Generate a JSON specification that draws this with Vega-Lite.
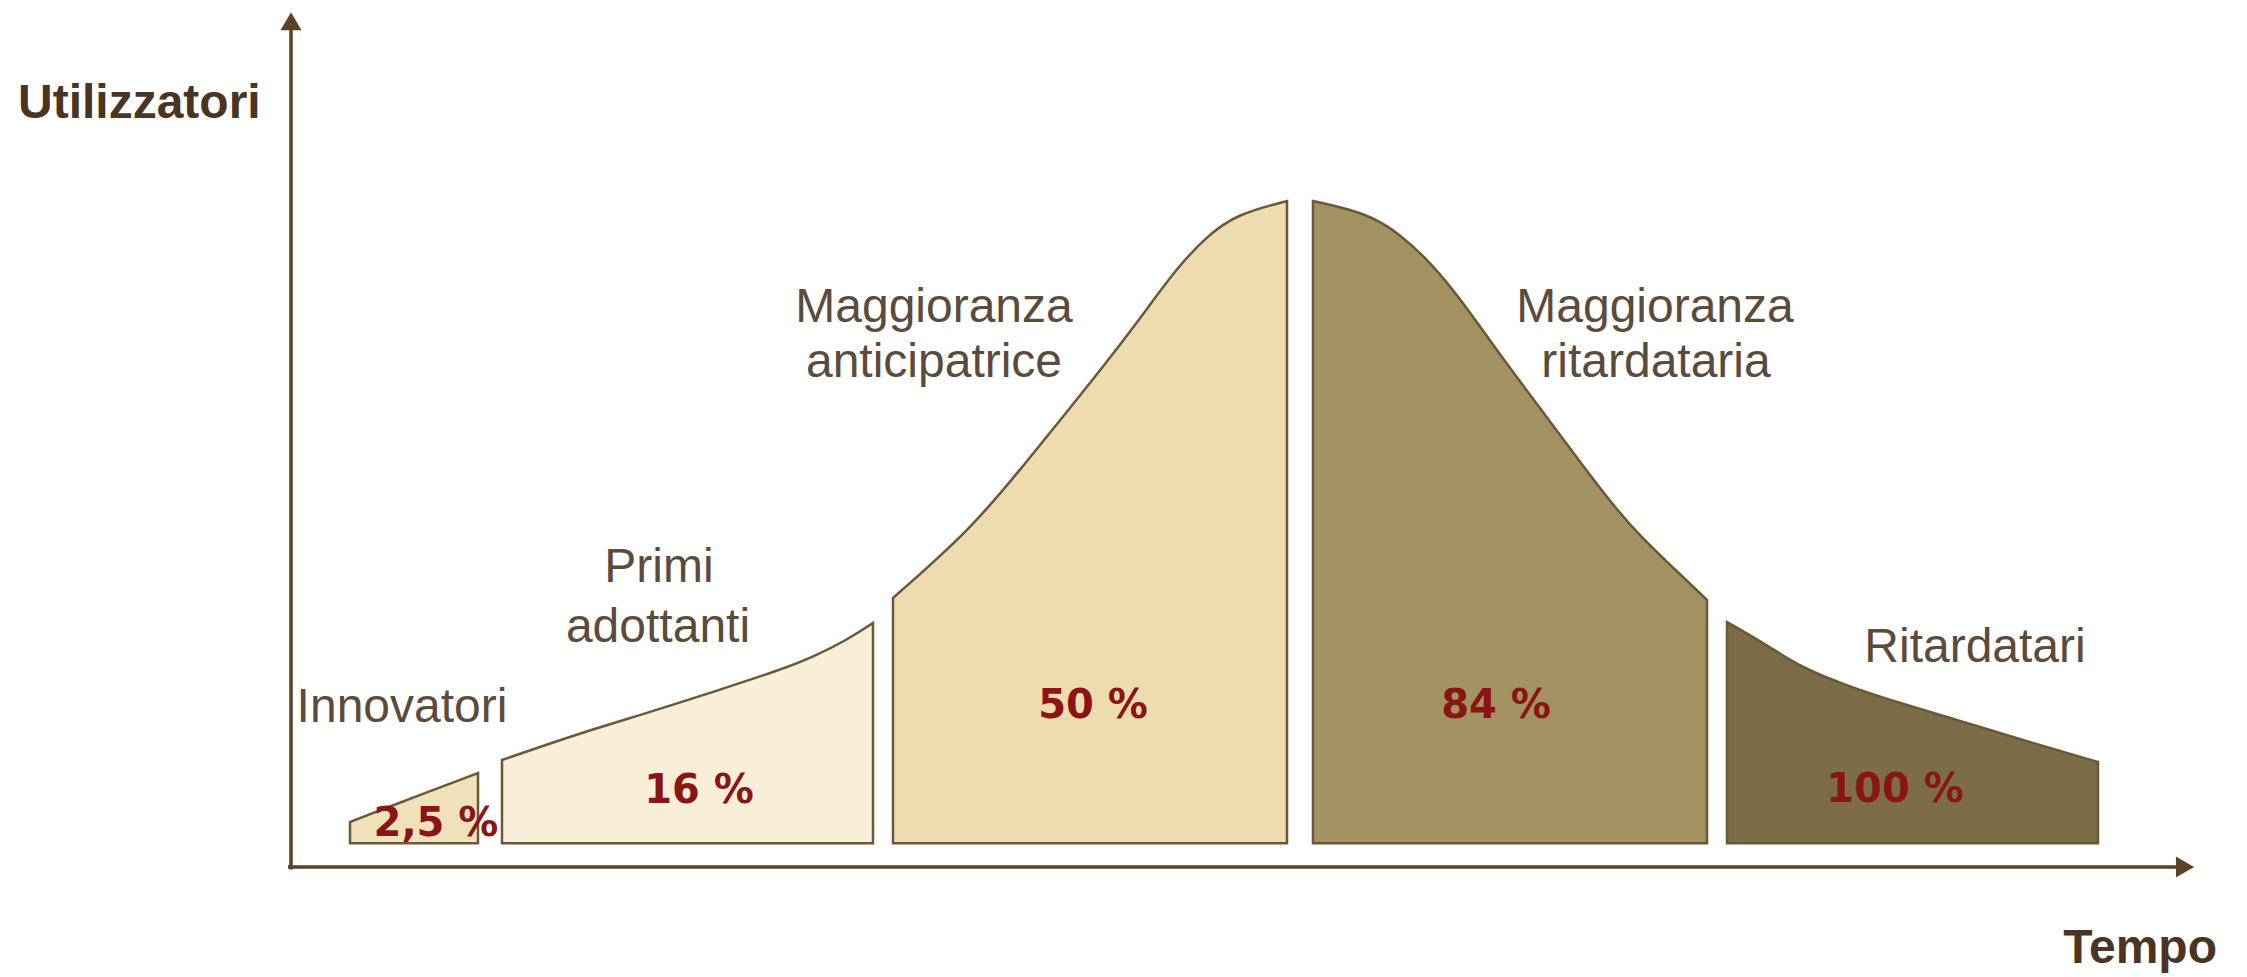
{
  "$schema": "https://vega.github.io/schema/vega-lite/v6.json",
  "width": 2247,
  "height": 977,
  "autosize": {"type": "none"},
  "padding": 0,
  "background": "#ffffff",
  "config": {"view": {"stroke": null}},
  "datasets": {
    "shapes": [
      {"seg": "Innovatori", "t": 2.95, "u": 5.29, "base": 2.8},
      {"seg": "Innovatori", "t": 4.35, "u": 6.59, "base": 2.8},
      {"seg": "Innovatori", "t": 9.35, "u": 11.06, "base": 2.8},
      {"seg": "Primi adottanti", "t": 10.55, "u": 12.59, "base": 2.8},
      {"seg": "Primi adottanti", "t": 14.45, "u": 15.76, "base": 2.8},
      {"seg": "Primi adottanti", "t": 17.8, "u": 18.12, "base": 2.8},
      {"seg": "Primi adottanti", "t": 21.1, "u": 20.59, "base": 2.8},
      {"seg": "Primi adottanti", "t": 24.45, "u": 23.18, "base": 2.8},
      {"seg": "Primi adottanti", "t": 26.1, "u": 24.71, "base": 2.8},
      {"seg": "Primi adottanti", "t": 27.8, "u": 26.71, "base": 2.8},
      {"seg": "Primi adottanti", "t": 29.1, "u": 28.71, "base": 2.8},
      {"seg": "Maggioranza anticipatrice", "t": 30.1, "u": 31.65, "base": 2.8},
      {"seg": "Maggioranza anticipatrice", "t": 33.95, "u": 39.65, "base": 2.8},
      {"seg": "Maggioranza anticipatrice", "t": 36.45, "u": 46.71, "base": 2.8},
      {"seg": "Maggioranza anticipatrice", "t": 38.95, "u": 54.0, "base": 2.8},
      {"seg": "Maggioranza anticipatrice", "t": 40.95, "u": 59.88, "base": 2.8},
      {"seg": "Maggioranza anticipatrice", "t": 42.95, "u": 66.12, "base": 2.8},
      {"seg": "Maggioranza anticipatrice", "t": 44.3, "u": 70.47, "base": 2.8},
      {"seg": "Maggioranza anticipatrice", "t": 45.8, "u": 74.24, "base": 2.8},
      {"seg": "Maggioranza anticipatrice", "t": 47.3, "u": 76.82, "base": 2.8},
      {"seg": "Maggioranza anticipatrice", "t": 49.8, "u": 78.35, "base": 2.8},
      {"seg": "Maggioranza ritardataria", "t": 51.1, "u": 78.35, "base": 2.8},
      {"seg": "Maggioranza ritardataria", "t": 53.8, "u": 76.94, "base": 2.8},
      {"seg": "Maggioranza ritardataria", "t": 55.45, "u": 74.47, "base": 2.8},
      {"seg": "Maggioranza ritardataria", "t": 56.95, "u": 71.18, "base": 2.8},
      {"seg": "Maggioranza ritardataria", "t": 58.45, "u": 66.94, "base": 2.8},
      {"seg": "Maggioranza ritardataria", "t": 60.45, "u": 60.24, "base": 2.8},
      {"seg": "Maggioranza ritardataria", "t": 62.45, "u": 54.0, "base": 2.8},
      {"seg": "Maggioranza ritardataria", "t": 64.6, "u": 47.18, "base": 2.8},
      {"seg": "Maggioranza ritardataria", "t": 66.3, "u": 42.0, "base": 2.8},
      {"seg": "Maggioranza ritardataria", "t": 67.45, "u": 38.94, "base": 2.8},
      {"seg": "Maggioranza ritardataria", "t": 69.6, "u": 34.12, "base": 2.8},
      {"seg": "Maggioranza ritardataria", "t": 70.8, "u": 31.41, "base": 2.8},
      {"seg": "Ritardatari", "t": 71.8, "u": 28.82, "base": 2.8},
      {"seg": "Ritardatari", "t": 73.8, "u": 26.12, "base": 2.8},
      {"seg": "Ritardatari", "t": 75.45, "u": 23.53, "base": 2.8},
      {"seg": "Ritardatari", "t": 77.95, "u": 21.18, "base": 2.8},
      {"seg": "Ritardatari", "t": 80.45, "u": 19.29, "base": 2.8},
      {"seg": "Ritardatari", "t": 83.8, "u": 16.94, "base": 2.8},
      {"seg": "Ritardatari", "t": 87.1, "u": 14.59, "base": 2.8},
      {"seg": "Ritardatari", "t": 90.35, "u": 12.35, "base": 2.8}
    ],
    "axes": [
      {"name": "Tempo", "t": -0.15, "t2": 94.5, "u": 0, "u2": 0},
      {"name": "Utilizzatori", "t": 0, "t2": 0, "u": -0.3, "u2": 98.5}
    ],
    "arrows": [
      {"dir": "right", "t": 94.7, "u": 0},
      {"dir": "up", "t": 0, "u": 99.5}
    ],
    "labels": [
      {"text": "Innovatori", "t": 5.55, "u": 17.06},
      {"text": "Primi", "t": 18.4, "u": 33.53},
      {"text": "adottanti", "t": 18.35, "u": 26.47},
      {"text": "Maggioranza", "t": 32.15, "u": 64.12},
      {"text": "anticipatrice", "t": 32.15, "u": 57.65},
      {"text": "Maggioranza", "t": 68.2, "u": 64.12},
      {"text": "ritardataria", "t": 68.25, "u": 57.65},
      {"text": "Ritardatari", "t": 84.2, "u": 24.12}
    ],
    "pcts": [
      {"text": "2,5 %", "t": 7.25, "u": 3.65},
      {"text": "16 %", "t": 20.4, "u": 7.53},
      {"text": "50 %", "t": 40.1, "u": 17.53},
      {"text": "84 %", "t": 60.25, "u": 17.53},
      {"text": "100 %", "t": 80.2, "u": 7.65}
    ],
    "titleY": [{"text": "Utilizzatori", "t": -13.65, "u": 88.12}],
    "titleX": [{"text": "Tempo", "t": 96.3, "u": -11.29}]
  },
  "layer": [
    {
      "data": {"name": "shapes"},
      "mark": {"type": "area", "interpolate": "basis", "stroke": "#6b5837", "strokeWidth": 2.5, "strokeJoin": "miter", "fillOpacity": 1},
      "encoding": {
        "x": {"field": "t", "type": "quantitative", "scale": {"domain": [-14.55, 97.8], "nice": false, "zero": false}, "axis": null},
        "y": {"field": "u", "type": "quantitative", "stack": null, "scale": {"domain": [-12.94, 102.0], "nice": false, "zero": false}, "axis": null},
        "y2": {"field": "base"},
        "color": {
          "field": "seg", "type": "nominal", "legend": null,
          "scale": {
            "domain": ["Innovatori", "Primi adottanti", "Maggioranza anticipatrice", "Maggioranza ritardataria", "Ritardatari"],
            "range": ["#f1e1bb", "#f9efd8", "#eedcae", "#a39262", "#7c6d48"]
          }
        }
      }
    },
    {
      "data": {"name": "axes"},
      "mark": {"type": "rule", "color": "#5c4127", "strokeWidth": 3.5},
      "encoding": {
        "x": {"field": "t", "type": "quantitative", "axis": null},
        "x2": {"field": "t2"},
        "y": {"field": "u", "type": "quantitative", "axis": null},
        "y2": {"field": "u2"}
      }
    },
    {
      "data": {"name": "arrows"},
      "mark": {"type": "point", "filled": true, "color": "#5c4127", "opacity": 1, "size": 440},
      "encoding": {
        "x": {"field": "t", "type": "quantitative", "axis": null},
        "y": {"field": "u", "type": "quantitative", "axis": null},
        "shape": {"field": "dir", "type": "nominal", "legend": null, "scale": {"domain": ["right", "up"], "range": ["triangle-right", "triangle-up"]}}
      }
    },
    {
      "data": {"name": "labels"},
      "mark": {"type": "text", "font": "Liberation Sans", "fontSize": 48, "color": "#5b4b3d", "align": "center", "baseline": "alphabetic"},
      "encoding": {
        "x": {"field": "t", "type": "quantitative", "axis": null},
        "y": {"field": "u", "type": "quantitative", "axis": null},
        "text": {"field": "text"}
      }
    },
    {
      "data": {"name": "pcts"},
      "mark": {"type": "text", "font": "DejaVu Sans", "fontSize": 40, "fontWeight": "bold", "color": "#8b1414", "align": "center", "baseline": "alphabetic"},
      "encoding": {
        "x": {"field": "t", "type": "quantitative", "axis": null},
        "y": {"field": "u", "type": "quantitative", "axis": null},
        "text": {"field": "text"}
      }
    },
    {
      "data": {"name": "titleY"},
      "mark": {"type": "text", "font": "Liberation Sans", "fontSize": 48, "fontWeight": "bold", "color": "#4b3522", "align": "left", "baseline": "alphabetic"},
      "encoding": {
        "x": {"field": "t", "type": "quantitative", "axis": null},
        "y": {"field": "u", "type": "quantitative", "axis": null},
        "text": {"field": "text"}
      }
    },
    {
      "data": {"name": "titleX"},
      "mark": {"type": "text", "font": "Liberation Sans", "fontSize": 48, "fontWeight": "bold", "color": "#4b3522", "align": "right", "baseline": "alphabetic"},
      "encoding": {
        "x": {"field": "t", "type": "quantitative", "axis": null},
        "y": {"field": "u", "type": "quantitative", "axis": null},
        "text": {"field": "text"}
      }
    }
  ]
}
